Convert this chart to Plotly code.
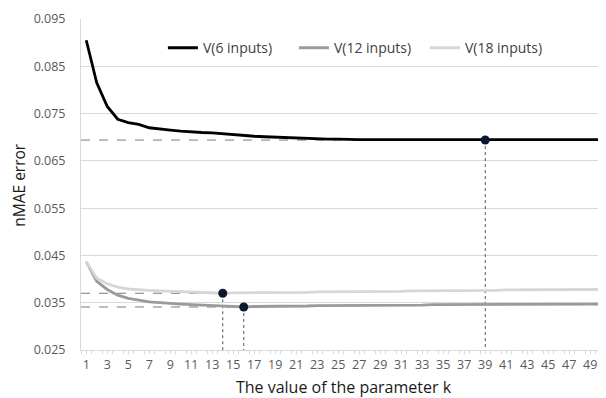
import plotly.graph_objects as go
import numpy as np

k_values = list(range(1, 51))
series_names = ["V(6 inputs)", "V(12 inputs)", "V(18 inputs)"]

v6 = [0.0905, 0.0815, 0.0765, 0.0738, 0.0731, 0.0727, 0.0720, 0.0717, 0.0715, 0.0713,
      0.0711, 0.0710, 0.0709, 0.0707, 0.0706, 0.0704, 0.0702, 0.0701, 0.0700, 0.0699,
      0.0698, 0.0697, 0.0697, 0.0696, 0.0696, 0.0695, 0.0695, 0.0695, 0.0695, 0.0695,
      0.0695, 0.0695, 0.0695, 0.0695, 0.0695, 0.0695, 0.0695, 0.0695, 0.0694, 0.0695,
      0.0695, 0.0695, 0.0695, 0.0695, 0.0695, 0.0695, 0.0695, 0.0695, 0.0695, 0.0695]

v12 = [0.0437, 0.0395, 0.0378, 0.0366, 0.0359, 0.0355, 0.0352, 0.0350, 0.0348, 0.0347,
       0.0346, 0.0345, 0.0344, 0.0343, 0.0342, 0.0341, 0.0342, 0.0342, 0.0343, 0.0343,
       0.0343, 0.0343, 0.0344, 0.0344, 0.0344, 0.0344, 0.0344, 0.0345, 0.0345, 0.0345,
       0.0345, 0.0345, 0.0345, 0.0346, 0.0346, 0.0346, 0.0346, 0.0346, 0.0346, 0.0346,
       0.0346, 0.0346, 0.0346, 0.0346, 0.0346, 0.0347, 0.0347, 0.0347, 0.0347, 0.0347]

v18 = [0.0437, 0.0402, 0.0390, 0.0383, 0.0379, 0.0377, 0.0376, 0.0375, 0.0374, 0.0373,
       0.0372, 0.0372, 0.0371, 0.0370, 0.0371, 0.0371, 0.0371, 0.0372, 0.0372, 0.0372,
       0.0372, 0.0372, 0.0373, 0.0373, 0.0373, 0.0373, 0.0373, 0.0374, 0.0374, 0.0374,
       0.0374, 0.0375, 0.0375, 0.0375, 0.0375, 0.0376, 0.0376, 0.0376, 0.0376, 0.0376,
       0.0377, 0.0377, 0.0377, 0.0377, 0.0377, 0.0377, 0.0378, 0.0378, 0.0378, 0.0378]

y_ticks = [0.025, 0.035, 0.045, 0.055, 0.065, 0.075, 0.085, 0.095]
x_ticks = list(range(1, 51, 2))

colors = ["#000000", "#9a9a9a", "#d6d6d6"]
all_series = [v6, v12, v18]

fig = go.Figure()

x_left = 0.5
y_bottom = y_ticks[0]

# dashed guide lines to the minimum of each series (drawn from data)
for vals in all_series:
    i = int(np.argmin(vals))
    kx, vy = k_values[i], vals[i]
    fig.add_trace(go.Scatter(x=[x_left, kx], y=[vy, vy], mode="lines",
                             line=dict(color="#7a7a7a", width=1, dash="dash"),
                             showlegend=False, hoverinfo="skip"))
    fig.add_trace(go.Scatter(x=[kx, kx], y=[vy, y_bottom], mode="lines",
                             line=dict(color="#555555", width=1, dash="dot"),
                             showlegend=False, hoverinfo="skip"))

for name, vals, c in zip(series_names, all_series, colors):
    fig.add_trace(go.Scatter(x=k_values, y=vals, mode="lines", name=name,
                             line=dict(color=c, width=2.8)))

for vals in all_series:
    i = int(np.argmin(vals))
    fig.add_trace(go.Scatter(x=[k_values[i]], y=[vals[i]], mode="markers",
                             marker=dict(color="#0c1830", size=9),
                             showlegend=False, hoverinfo="skip"))

fig.add_annotation(text="nMAE error", xref="paper", yref="paper",
                   x=-0.117, y=0.498, xanchor="center", yanchor="middle",
                   textangle=-90, showarrow=False, borderpad=0,
                   font=dict(family="Open Sans", size=15.5, color="#1a1a1a"))

fig.update_layout(
    width=598, height=390,
    margin=dict(l=73, r=0, t=11, b=48),
    paper_bgcolor="white", plot_bgcolor="white",
    font=dict(family="Open Sans", size=12, color="#595959"),
    legend=dict(orientation="h", x=0.156, xanchor="left", y=0.912, yanchor="middle",
                font=dict(size=14, color="#404040"), bgcolor="rgba(0,0,0,0)",
                itemwidth=30, traceorder="normal",
                entrywidth=86, entrywidthmode="pixels"),
    xaxis=dict(range=[0.5, 50.5], tickmode="array", tickvals=x_ticks,
               ticktext=[str(t) for t in x_ticks],
               showgrid=False, showline=True, linecolor="#d9d9d9", linewidth=1,
               ticks="outside", ticklen=3, tickcolor="#d9d9d9",
               minor=dict(tickmode="linear", tick0=0.5, dtick=1, ticks="outside",
                          ticklen=3, tickcolor="#d9d9d9", showgrid=False),
               zeroline=False,
               title=dict(text="The value of the parameter k",
                          font=dict(size=16, color="#1a1a1a"), standoff=9),
               tickfont=dict(size=12.5, color="#595959")),
    yaxis=dict(range=[0.025, 0.095], tickvals=y_ticks,
               ticktext=[f"{t:.3f}" for t in y_ticks],
               showgrid=True, gridcolor="#d9d9d9", gridwidth=1,
               showline=True, linecolor="#d9d9d9", linewidth=1,
               zeroline=False, ticks="", ticklabelstandoff=12,
               tickfont=dict(size=12.5, color="#595959")),
)

fig.write_html("out.html")
